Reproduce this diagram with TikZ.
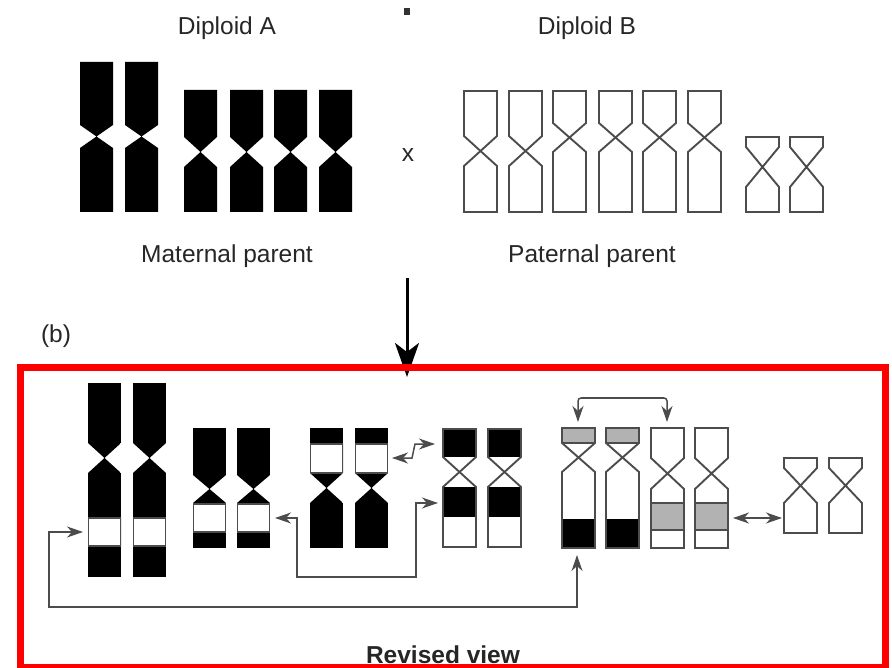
\documentclass[tikz,border=0pt]{standalone}
\usepackage{fontspec}
\setmainfont{Liberation Sans}
\usetikzlibrary{arrows.meta}

% chromosome outline: left x, top, neck start, neck end, bottom
\newcommand{\chrpath}[5]{(#1,#2) -- (#1+33,#2) -- (#1+33,#3) -- (#1,#4) -- (#1,#5) -- (#1+33,#5) -- (#1+33,#4) -- (#1,#3) -- cycle}

\begin{document}
\begin{tikzpicture}[x=1pt, y=-1pt, >={Stealth[length=16pt,width=11pt,inset=5pt]},
    chrom/.style={draw=black!70, line width=1.9pt},
    link/.style={draw=black!70, line width=1.5pt, <->},
    word/.style={anchor=base, text=black!85, font=\fontsize{24.5}{29}\selectfont}]
    \useasboundingbox (0,0) rectangle (892,668);

    % parents
    \node[word] (dipA) at (227,35) {Diploid A};
    \node[word] (dipB) at (587,35) {Diploid B};
    \node[word] (mat) at (227,263) {Maternal parent};
    \node[word] (pat) at (592,263) {Paternal parent};
    \node[word] (cross) at (408,162) {x};
    \fill[black!80] (404,8) rectangle (410,15);

    % diploid A: solid black
    \foreach \x in {80,125} \fill \chrpath{\x}{62}{125}{148}{212};
    \foreach \x in {184,230,274,319} \fill \chrpath{\x}{90}{137}{167}{212};

    % diploid B: outlines
    \foreach \x in {464,509} \draw[chrom] \chrpath{\x}{91}{136}{166}{212};
    \foreach \x in {553,599,643,688} \draw[chrom] \chrpath{\x}{91}{123}{152}{212};
    \foreach \x in {746,790} \draw[chrom] \chrpath{\x}{137}{147}{187}{212};

    % cross arrow down into the hybrid
    \coordinate (parents) at (407,278);
    \coordinate (offspring) at (407,377);
    \draw[line width=3pt, -{Stealth[length=34pt,width=24pt,inset=9pt]}] (parents) -- (offspring);

    \node[word] (panelb) at (56,343) {(b)};
    \draw[red, line width=7pt] (20,368) rectangle (885,667);
    \node[word, font=\fontsize{24.5}{29}\selectfont\bfseries] (revised) at (443,663) {Revised view};

    % hybrid karyotype
    \foreach \x in {88,133} {
        \begin{scope}
            \clip \chrpath{\x}{383}{443}{473}{577};
            \fill (\x,383) rectangle (\x+33,577);
            \filldraw[fill=white, draw=black!70, line width=1.9pt] (\x,518) rectangle (\x+33,546);
        \end{scope}
    }
    \foreach \x in {193,237} {
        \begin{scope}
            \clip \chrpath{\x}{428}{475}{503}{548};
            \fill (\x,428) rectangle (\x+33,548);
            \filldraw[fill=white, draw=black!70, line width=1.9pt] (\x,504) rectangle (\x+33,532);
        \end{scope}
    }
    \foreach \x in {310,355} {
        \begin{scope}
            \clip \chrpath{\x}{428}{473}{503}{548};
            \fill (\x,428) rectangle (\x+33,548);
            \filldraw[fill=white, draw=black!70, line width=1.9pt] (\x,444) rectangle (\x+33,473);
        \end{scope}
    }
    \foreach \x in {443,488} {
        \begin{scope}
            \clip \chrpath{\x}{429}{457}{487}{547};
            \fill (\x,429) rectangle (\x+33,457);
            \fill (\x,487) rectangle (\x+33,517);
        \end{scope}
        \draw[chrom] \chrpath{\x}{429}{457}{487}{547};
    }
    \foreach \x in {562,606} {
        \begin{scope}
            \clip \chrpath{\x}{428}{443}{472}{548};
            \filldraw[fill=black!30, draw=black!70, line width=1.9pt] (\x,428) rectangle (\x+33,443);
            \fill (\x,519) rectangle (\x+33,548);
        \end{scope}
        \draw[chrom] \chrpath{\x}{428}{443}{472}{548};
    }
    \foreach \x in {651,695} {
        \filldraw[fill=black!30, draw=black!70, line width=1.9pt] (\x,503) rectangle (\x+33,530);
        \draw[chrom] \chrpath{\x}{428}{458}{489}{548};
    }
    \foreach \x in {784,829} \draw[chrom] \chrpath{\x}{458}{468}{503}{533};

    % exchanges between chromosomes
    \coordinate (r1band) at (83,532);
    \coordinate (r5foot) at (577,555);
    \coordinate (r2band) at (275,518);
    \coordinate (r4low) at (438,503);
    \coordinate (r3band) at (392,458);
    \coordinate (r4top) at (435,444);
    \coordinate (r5head) at (578,422);
    \coordinate (r6head) at (667,422);
    \coordinate (r6band) at (733,518);
    \coordinate (r7side) at (782,518);

    \draw[link] (r1band) -| (49,607) -| (r5foot);
    \draw[link] (r2band) -| (297,577) -| (416,503) -- (r4low);
    \draw[link] (r3band) -- (412,458) -- (415,444) -- (r4top);
    \draw[link, rounded corners=3pt] (r5head) |- (622,398) -| (r6head);
    \draw[link] (r6band) -- (r7side);
\end{tikzpicture}
\end{document}
